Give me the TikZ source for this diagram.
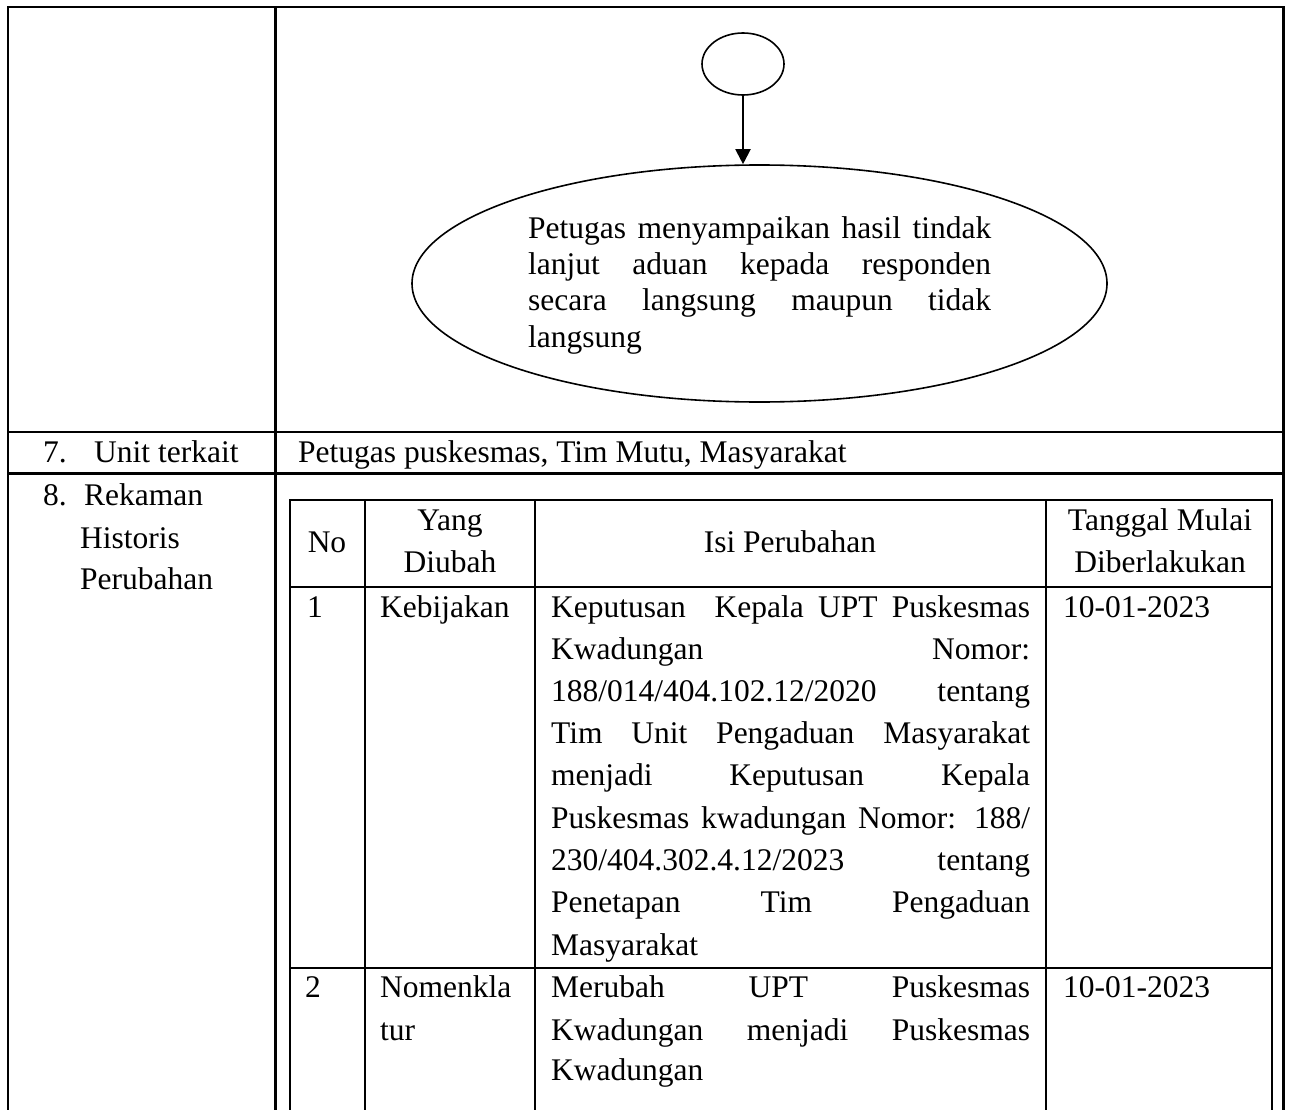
\documentclass[tikz,border=0pt]{standalone}
\usepackage{fontspec}
\setmainfont{Liberation Serif}
\usetikzlibrary{shapes.geometric,arrows.meta}
\newcommand\jline[2]{\makebox[#1][s]{#2}}
\begin{document}
\begin{tikzpicture}[x=1pt,y=-1pt,
  txt/.style={anchor=base west,inner sep=0pt,font=\fontsize{31.5}{36}\selectfont},
  ctr/.style={anchor=base,inner sep=0pt,font=\fontsize{31.5}{36}\selectfont},
  outerline/.style={line width=2.6pt},
  innerline/.style={line width=2pt},
  flowshape/.style={draw,ellipse,inner sep=0pt,line width=1.6pt},
  ]
\useasboundingbox[fill=white] (0,0) rectangle (1292,1110);
% outer table
\draw[outerline] (8,1110) -- (8,7) -- (1283.5,7) -- (1283.5,1110);
\draw[outerline] (275.5,7) -- (275.5,1110);
\draw[outerline] (8,432) -- (1283.5,432);
\draw[outerline] (8,473.5) -- (1283.5,473.5);
% inner table
\draw[innerline] (290,1110) -- (290,500) -- (1272,500) -- (1272,1110);
\draw[innerline] (365,500) -- (365,1110);
\draw[innerline] (535,500) -- (535,1110);
\draw[innerline] (1046,500) -- (1046,1110);
\draw[innerline] (290,587) -- (1272,587);
\draw[innerline] (290,968) -- (1272,968);
% flow
\node[flowshape,minimum width=82pt,minimum height=62pt] (start) at (743,64) {};
\node[flowshape,minimum width=695pt,minimum height=237pt] (proc) at (759.5,283.5) {};
\draw[line width=2pt,-{Triangle[length=15pt,width=15pt]}] (start.south) -- (start.south |- proc.north);
\node[txt] (p1) at (528,238) {\jline{463pt}{Petugas menyampaikan hasil tindak}};
\node[txt] (p2) at (528,274) {\jline{463pt}{lanjut aduan kepada responden}};
\node[txt] (p3) at (528,310) {\jline{463pt}{secara langsung maupun tidak}};
\node[txt] (p4) at (528,347) {langsung};
% row 7
\node[txt] (n7) at (43,462) {7.};
\node[txt] (unit) at (94,462) {Unit terkait};
\node[txt] (unitv) at (298,462) {Petugas puskesmas, Tim Mutu, Masyarakat};
% row 8
\node[txt] (n8) at (43,505) {8.};
\node[txt] (rek1) at (84,505) {Rekaman};
\node[txt] (rek2) at (80,548) {Historis};
\node[txt] (rek3) at (80,589) {Perubahan};
% header
\node[ctr] (hno) at (327,552) {No};
\node[ctr] (hy1) at (450,530) {Yang};
\node[ctr] (hy2) at (450,572) {Diubah};
\node[ctr] (hisi) at (790,552) {Isi Perubahan};
\node[ctr] (ht1) at (1160,530) {Tanggal Mulai};
\node[ctr] (ht2) at (1160,572) {Diberlakukan};
% row 1
\node[txt] (r1no) at (307,617) {1};
\node[txt] (r1y) at (380,617) {Kebijakan};
\node[txt] (r1d) at (1063,617) {10-01-2023};
\node[txt] (c1) at (551,617) {\jline{479pt}{Keputusan\ \ Kepala UPT Puskesmas}};
\node[txt] (c2) at (551,659) {\jline{479pt}{Kwadungan Nomor:}};
\node[txt] (c3) at (551,701) {\jline{479pt}{188/014/404.102.12/2020 tentang}};
\node[txt] (c4) at (551,743) {\jline{479pt}{Tim Unit Pengaduan Masyarakat}};
\node[txt] (c5) at (551,785) {\jline{479pt}{menjadi Keputusan Kepala}};
\node[txt] (c6) at (551,828) {\jline{479pt}{Puskesmas kwadungan Nomor: 188/}};
\node[txt] (c7) at (551,870) {\jline{479pt}{230/404.302.4.12/2023 tentang}};
\node[txt] (c8) at (551,912) {\jline{479pt}{Penetapan Tim Pengaduan}};
\node[txt] (c9) at (551,955) {Masyarakat};
% row 2
\node[txt] (r2no) at (305,997) {2};
\node[txt] (r2y1) at (380,997) {Nomenkla};
\node[txt] (r2y2) at (380,1040) {tur};
\node[txt] (r2d) at (1063,997) {10-01-2023};
\node[txt] (d1) at (551,997) {\jline{479pt}{Merubah UPT Puskesmas}};
\node[txt] (d2) at (551,1040) {\jline{479pt}{Kwadungan menjadi Puskesmas}};
\node[txt] (d3) at (551,1080) {Kwadungan};
\end{tikzpicture}
\end{document}
